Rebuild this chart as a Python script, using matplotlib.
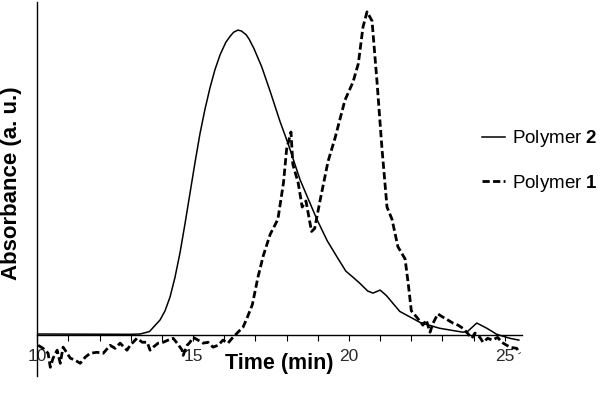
import matplotlib.pyplot as plt
from matplotlib.ticker import FixedLocator, FuncFormatter

plt.rcParams['font.family'] = ['Liberation Sans', 'DejaVu Sans']
plt.rcParams['mathtext.fontset'] = 'custom'
plt.rcParams['mathtext.rm'] = 'Liberation Sans'
plt.rcParams['mathtext.bf'] = 'Liberation Sans:bold'

# Polymer 2 (solid trace), time in min, absorbance in a.u.
t_p2 = [10.0, 13.0, 13.3, 13.6, 13.94, 14.1, 14.26, 14.42, 14.58, 14.74,
        14.9, 15.06, 15.22, 15.38, 15.54, 15.7, 15.87, 16.05, 16.19, 16.3,
        16.44, 16.55, 16.7, 16.8, 16.95, 17.2, 17.47, 17.79, 18.04, 18.43,
        18.97, 19.3, 19.62, 19.9, 20.13, 20.35, 20.6, 20.77, 21.0, 21.2,
        21.63, 22.28, 22.9, 23.65, 23.8, 24.1, 24.42, 24.74, 25.16, 25.45]
a_p2 = [0.004, 0.003, 0.004, 0.012, 0.05, 0.08, 0.125, 0.19, 0.27, 0.365,
        0.465, 0.565, 0.66, 0.74, 0.81, 0.87, 0.92, 0.96, 0.98, 0.993,
        1.0, 0.997, 0.985, 0.97, 0.94, 0.88, 0.80, 0.70, 0.63, 0.51,
        0.38, 0.31, 0.256, 0.21, 0.19, 0.17, 0.145, 0.138, 0.148, 0.13,
        0.078, 0.042, 0.023, 0.01, 0.012, 0.04, 0.023, 0.003, -0.01, -0.016]

# Polymer 1 (dashed trace)
t_p1 = [10.03, 10.19, 10.35, 10.42, 10.51, 10.64, 10.74, 10.83, 10.96, 11.06,
        11.22, 11.38, 11.54, 11.70, 11.92, 12.12, 12.34, 12.50, 12.66, 12.88,
        12.98, 13.20, 13.37, 13.53, 13.62, 13.72, 13.88, 14.04, 14.20, 14.36,
        14.49, 14.65, 14.68, 14.81, 14.90, 15.00, 15.16, 15.32, 15.48, 15.64,
        15.80, 15.96, 16.12, 16.25, 16.35, 16.44, 16.60, 16.73, 16.90, 17.08,
        17.25, 17.47, 17.72, 17.90, 18.00, 18.14, 18.20, 18.37, 18.50, 18.62,
        18.80, 18.90, 19.07, 19.33, 19.55, 19.87, 20.13, 20.30, 20.45, 20.58,
        20.74, 20.90, 21.06, 21.22, 21.38, 21.57, 21.80, 21.90, 22.00, 22.20,
        22.37, 22.48, 22.60, 22.70, 22.85, 23.00, 23.17, 23.33, 23.50, 23.65,
        23.80, 23.94, 24.04, 24.20, 24.30, 24.45, 24.60, 24.77, 24.90, 25.06,
        25.20, 25.38, 25.48]
a_p1 = [-0.033, -0.043, -0.059, -0.105, -0.075, -0.049, -0.092, -0.039, -0.059, -0.075,
        -0.082, -0.092, -0.072, -0.059, -0.056, -0.059, -0.033, -0.043, -0.026, -0.049,
        -0.033, -0.010, -0.023, -0.023, -0.049, -0.039, -0.026, -0.023, -0.016, -0.010,
        -0.026, -0.049, -0.066, -0.033, -0.023, -0.007, -0.016, -0.026, -0.023, -0.039,
        -0.033, -0.016, -0.026, -0.010, 0.000, 0.010, 0.026, 0.056, 0.10, 0.19,
        0.26, 0.33, 0.38, 0.50, 0.61, 0.666, 0.56, 0.50, 0.42, 0.44,
        0.34, 0.35, 0.44, 0.57, 0.645, 0.77, 0.83, 0.89, 1.01, 1.06,
        1.03, 0.83, 0.61, 0.42, 0.38, 0.29, 0.25, 0.17, 0.08, 0.056,
        0.033, 0.05, 0.01, 0.04, 0.07, 0.06, 0.05, 0.04, 0.033, 0.023,
        0.007, -0.010, 0.007, -0.007, -0.023, -0.010, -0.016, -0.007, -0.023, -0.033,
        -0.040, -0.043, -0.06]

x_ticks = list(range(10, 26))
x_labels = [10, 15, 20, 25]

fig = plt.figure(figsize=(6.0, 4.04), dpi=100)
ax = fig.add_axes([0.062, 0.069, 0.808, 0.926])

ax.plot(t_p2, a_p2, color='black', lw=1.1, label='Polymer $\\mathbf{2}$')
ax.plot(t_p1, a_p1, color='black', lw=2.0, dashes=(2.6, 1.2), label='Polymer $\\mathbf{1}$')

ax.set_xlim(10, 25.55)
ax.set_ylim(-0.134, 1.092)

for s in ['top', 'right']:
    ax.spines[s].set_visible(False)
ax.spines['bottom'].set_position(('data', 0))
ax.spines['left'].set_linewidth(1.0)
ax.spines['bottom'].set_linewidth(1.0)

ax.set_yticks([])
ax.xaxis.set_major_locator(FixedLocator(x_ticks))
ax.xaxis.set_major_formatter(FuncFormatter(lambda v, p: str(int(v)) if int(v) in x_labels else ''))
ax.tick_params(axis='x', direction='out', length=4, width=0.8, pad=6,
               labelsize=12.5, labelcolor='#2a2a2a')

ax.set_xlabel('Time (min)', fontsize=15.5, fontweight='bold')
ax.xaxis.set_label_coords(0.5, 0.061)
ax.set_ylabel('Absorbance (a. u.)', fontsize=16, fontweight='bold')
ax.yaxis.set_label_coords(-0.031, 0.516)

fig.legend(loc='center left', bbox_to_anchor=(0.803, 0.601), frameon=False,
           fontsize=13.5, handlelength=1.25, handletextpad=0.35, labelspacing=1.25,
           borderpad=0, borderaxespad=0)

fig.savefig('out.png', dpi=100)
